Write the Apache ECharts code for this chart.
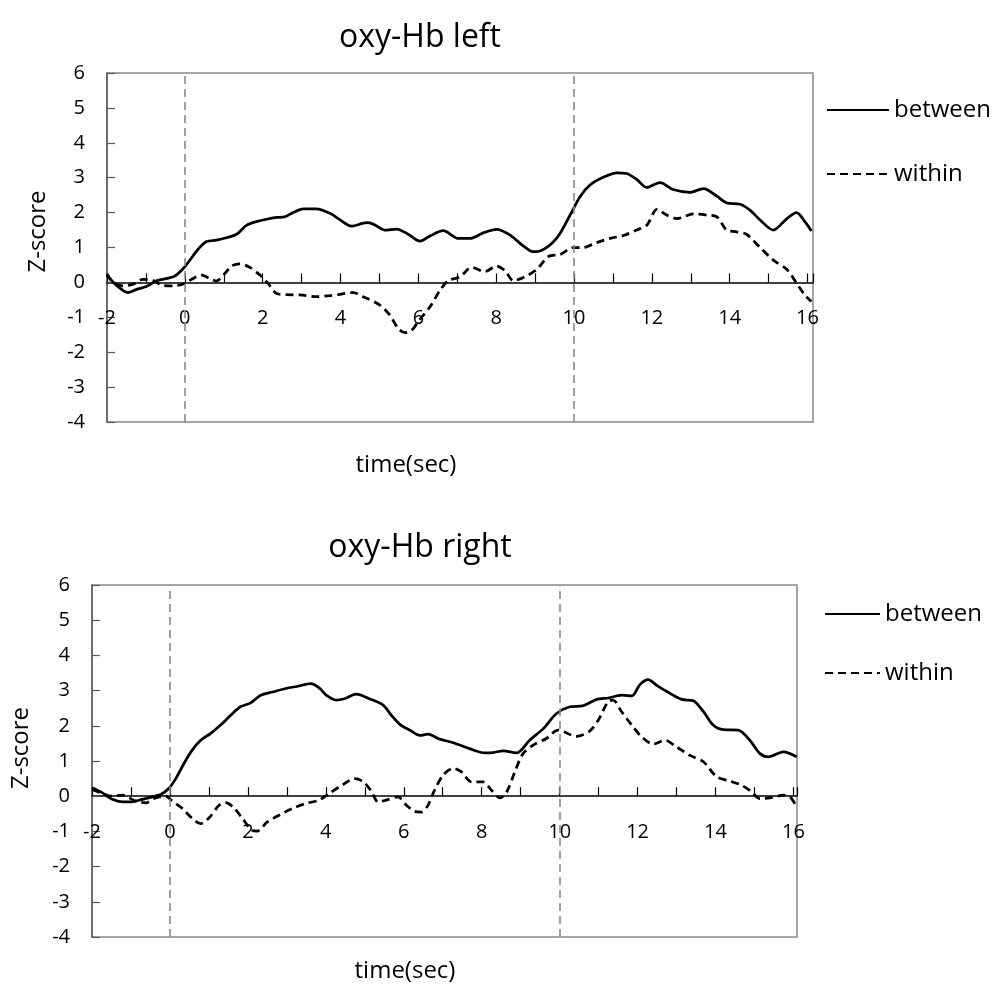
<!DOCTYPE html>
<html>
<head>
<meta charset="utf-8">
<script src="https://cdn.jsdelivr.net/npm/echarts@6/dist/echarts.min.js"></script>
<style>
html,body{margin:0;padding:0;background:#fff;}
#chart{width:996px;height:985px;}
</style>
</head>
<body>
<div id="chart"></div>
<script>
// ---------- data ----------
const chartTitles = ['oxy-Hb left', 'oxy-Hb right'];
const seriesNames = ['between', 'within'];
const markerTimes = [0, 10];

// oxy-Hb left : between
const leftBetweenTime = [-2.0,-1.76,-1.46,-1.24,-0.99,-0.73,-0.47,-0.26,-0.04,0.13,0.34,0.56,0.81,1.07,1.33,1.59,1.84,2.1,2.36,2.57,2.78,3.04,3.38,3.73,3.98,4.28,4.67,4.84,5.14,5.44,5.74,6.04,6.3,6.64,7.03,7.33,7.67,8.01,8.35,8.7,8.95,9.13,9.55,9.9,10.15,10.41,10.75,11.1,11.35,11.61,11.87,12.21,12.55,12.98,13.33,13.67,13.92,14.27,14.52,14.78,15.12,15.47,15.72,15.93,16.1];
const leftBetween = [0.2,-0.08,-0.29,-0.2,-0.12,0.05,0.11,0.18,0.4,0.64,0.95,1.17,1.21,1.28,1.38,1.64,1.74,1.81,1.86,1.88,2.0,2.11,2.11,1.98,1.8,1.61,1.71,1.67,1.5,1.53,1.38,1.18,1.33,1.48,1.26,1.26,1.42,1.52,1.36,1.04,0.88,0.9,1.26,1.93,2.45,2.79,3.01,3.14,3.12,2.95,2.72,2.86,2.66,2.58,2.69,2.47,2.28,2.24,2.07,1.79,1.5,1.83,2.0,1.74,1.47];

// oxy-Hb left : within
const leftWithinTime = [-2.0,-1.84,-1.59,-1.33,-1.07,-0.81,-0.56,-0.3,0.0,0.21,0.43,0.64,0.81,1.03,1.2,1.41,1.67,1.93,2.14,2.36,2.61,2.96,3.38,3.73,3.98,4.33,4.58,5.01,5.27,5.48,5.66,5.83,6.04,6.3,6.56,6.77,7.07,7.37,7.71,8.01,8.23,8.44,8.7,9.04,9.34,9.64,9.98,10.24,10.58,10.93,11.31,11.61,11.87,12.13,12.38,12.64,13.07,13.41,13.67,13.92,14.18,14.43,14.78,15.12,15.47,15.72,15.93,16.1];
const leftWithin = [0.24,0.0,-0.1,-0.05,0.09,0.05,-0.09,-0.1,-0.03,0.11,0.21,0.11,0.04,0.26,0.47,0.53,0.43,0.21,-0.03,-0.32,-0.35,-0.36,-0.41,-0.38,-0.34,-0.29,-0.41,-0.65,-0.94,-1.32,-1.44,-1.37,-1.06,-0.7,-0.22,0.05,0.16,0.43,0.31,0.47,0.33,0.05,0.14,0.37,0.74,0.8,1.0,1.0,1.14,1.26,1.36,1.5,1.64,2.09,1.93,1.83,1.96,1.93,1.88,1.5,1.45,1.38,1.0,0.64,0.37,-0.03,-0.36,-0.55];

// oxy-Hb right : between
const rightBetweenTime = [-2.0,-1.74,-1.48,-1.22,-0.97,-0.71,-0.45,-0.24,-0.03,0.15,0.36,0.57,0.79,1.04,1.3,1.56,1.81,2.07,2.33,2.63,2.97,3.31,3.61,3.83,4.01,4.27,4.48,4.78,5.12,5.47,5.68,5.9,6.15,6.41,6.62,6.92,7.27,7.69,8.08,8.29,8.55,8.89,9.23,9.58,9.92,10.26,10.6,10.95,11.25,11.59,11.85,12.06,12.27,12.49,12.74,13.13,13.43,13.69,13.94,14.2,14.58,14.88,15.14,15.36,15.74,16.08];
const rightBetween = [0.24,0.1,-0.09,-0.16,-0.16,-0.09,-0.02,0.05,0.22,0.5,0.93,1.31,1.59,1.78,2.02,2.3,2.54,2.65,2.87,2.96,3.06,3.13,3.2,3.08,2.87,2.73,2.77,2.9,2.77,2.59,2.3,2.04,1.88,1.73,1.76,1.62,1.52,1.35,1.23,1.24,1.29,1.23,1.59,1.92,2.35,2.54,2.57,2.75,2.79,2.87,2.85,3.17,3.31,3.15,2.98,2.75,2.71,2.4,2.02,1.89,1.88,1.59,1.21,1.12,1.26,1.12];

// oxy-Hb right : within
const rightWithinTime = [-2.0,-1.74,-1.48,-1.22,-0.88,-0.62,-0.37,-0.11,0.06,0.32,0.57,0.79,1.0,1.26,1.43,1.64,1.86,2.11,2.24,2.5,2.8,3.14,3.48,3.83,4.1,4.44,4.74,4.96,5.17,5.34,5.55,5.85,6.07,6.28,6.45,6.62,6.79,7.01,7.27,7.48,7.73,8.03,8.25,8.47,8.64,8.85,9.06,9.32,9.66,9.96,10.43,10.77,10.99,11.25,11.37,11.59,11.85,12.1,12.4,12.7,13.0,13.34,13.69,14.03,14.37,14.67,14.93,15.14,15.4,15.74,15.91,16.08];
const rightWithin = [0.19,0.08,0.0,0.03,-0.14,-0.19,-0.05,0.0,-0.14,-0.35,-0.63,-0.78,-0.62,-0.26,-0.18,-0.33,-0.63,-0.97,-0.99,-0.73,-0.54,-0.35,-0.21,-0.11,0.09,0.33,0.5,0.41,0.14,-0.16,-0.11,-0.02,-0.26,-0.43,-0.45,-0.26,0.17,0.6,0.79,0.69,0.41,0.41,0.17,-0.05,0.12,0.69,1.21,1.45,1.64,1.88,1.7,1.85,2.16,2.7,2.73,2.4,2.02,1.69,1.48,1.59,1.4,1.16,0.98,0.55,0.43,0.31,0.12,-0.07,-0.05,0.03,-0.02,-0.3];

// axis ranges / ticks
const yMin = -4, yMax = 6, yStep = 1;
const xMin = -2, xStep = 1;

// ---------- chart ----------
const FONT = 'Open Sans';
const pairs = (t, v) => t.map((x, i) => [x, v[i]]);

// grid geometry (layout only)
const grids = [
  { left: 107, top: 73, width: 706, height: 349 },
  { left: 92, top: 585, width: 705, height: 352 }
];
// pixel offset that moves the x axis up onto the y = 0 line
const zeroOffset = g => -g.height * (0 - yMin) / (yMax - yMin);

function xAxisCfg(gridIndex, max) {
  return {
    type: 'value', gridIndex, min: xMin, max, interval: xStep,
    position: 'bottom', offset: zeroOffset(grids[gridIndex]),
    axisLine: { onZero: false, lineStyle: { color: '#000', width: 1.5 } },
    axisTick: { inside: true, length: 9, lineStyle: { color: '#000', width: 1.2 } },
    axisLabel: {
      margin: 26, fontSize: 20, fontFamily: FONT, color: '#000',
      formatter: v => (Number.isInteger(v) && v % 2 === 0) ? String(v) : ''
    },
    splitLine: { show: false }
  };
}
function yAxisCfg(gridIndex, nameGap, shift) {
  return {
    type: 'value', gridIndex, min: yMin, max: yMax, interval: yStep,
    position: 'left',
    name: 'Z-score', nameLocation: 'middle', nameRotate: 90, nameGap,
    nameTextStyle: { fontSize: 24, fontFamily: FONT, color: '#000', padding: [0, 0, 0, shift] },
    axisLine: { show: true, onZero: false, lineStyle: { color: '#595959', width: 1.5 } },
    axisTick: { inside: true, length: 8, lineStyle: { color: '#595959', width: 1.2 } },
    axisLabel: { margin: 22, fontSize: 20, fontFamily: FONT, color: '#000' },
    splitLine: { show: false }
  };
}
function lineSeries(name, idx, data, dashed, withMarks) {
  const s = {
    name, type: 'line', xAxisIndex: idx, yAxisIndex: idx, data,
    symbol: 'none', smooth: 0.3, animation: false,
    lineStyle: { color: '#000', width: 2.75, type: dashed ? [8, 5] : 'solid' },
    itemStyle: { color: '#000' },
    z: 3
  };
  if (withMarks) {
    s.markLine = {
      silent: true, symbol: ['none', 'none'], animation: false,
      label: { show: false },
      lineStyle: { color: '#8a8a8a', width: 1.6, type: [8, 5] },
      data: markerTimes.map(t => ({ xAxis: t }))
    };
  }
  return s;
}
function legendCfg(left, top, itemWidth, itemGap) {
  return {
    data: seriesNames, orient: 'vertical', left, top, itemWidth, itemHeight: 14, itemGap,
    itemStyle: { opacity: 0, borderWidth: 0 },
    textStyle: { fontSize: 24, fontFamily: FONT, color: '#000' },
    selectedMode: false
  };
}

const chart = echarts.init(document.getElementById('chart'), null, { renderer: 'canvas' });
chart.setOption({
  backgroundColor: '#fff',
  animation: false,
  textStyle: { fontFamily: FONT },
  title: [
    { text: chartTitles[0], left: 415, top: 17, textAlign: 'center', textStyle: { fontSize: 32, fontWeight: 'normal', fontFamily: FONT, color: '#000' } },
    { text: chartTitles[1], left: 415, top: 527, textAlign: 'center', textStyle: { fontSize: 32, fontWeight: 'normal', fontFamily: FONT, color: '#000' } },
    { text: 'time(sec)', left: 401, top: 448, textAlign: 'center', textStyle: { fontSize: 24, fontWeight: 'normal', fontFamily: FONT, color: '#000' } },
    { text: 'time(sec)', left: 400, top: 954, textAlign: 'center', textStyle: { fontSize: 24, fontWeight: 'normal', fontFamily: FONT, color: '#000' } }
  ],
  legend: [
    legendCfg(821, 93, 62, 40),
    legendCfg(819, 597, 55, 35)
  ],
  grid: grids.map(g => Object.assign({ show: true, borderColor: '#898989', borderWidth: 1.5, backgroundColor: 'transparent' }, g)),
  xAxis: [xAxisCfg(0, 16.14), xAxisCfg(1, 16.09)],
  yAxis: [yAxisCfg(0, 57, 32), yAxisCfg(1, 59, 26)],
  series: [
    lineSeries(seriesNames[0], 0, pairs(leftBetweenTime, leftBetween), false, true),
    lineSeries(seriesNames[1], 0, pairs(leftWithinTime, leftWithin), true, false),
    lineSeries(seriesNames[0], 1, pairs(rightBetweenTime, rightBetween), false, true),
    lineSeries(seriesNames[1], 1, pairs(rightWithinTime, rightWithin), true, false)
  ]
});
</script>
</body>
</html>
